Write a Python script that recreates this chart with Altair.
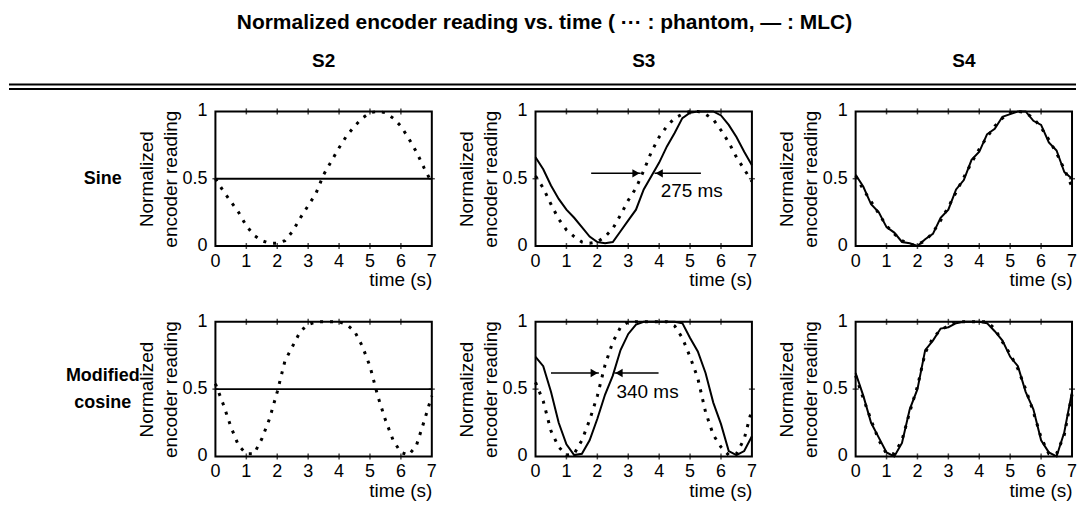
import altair as alt
import pandas as pd

# ---------------- data ----------------
TITLE = "Normalized encoder reading vs. time ( \u00b7\u00b7\u00b7 : phantom, \u2014 : MLC)"
COLS = ["S2", "S3", "S4"]
ROWS = ["Sine", "Modified\ncosine"]
X_TICKS = [0, 1, 2, 3, 4, 5, 6, 7]
X_TICK_LABELS = ["0", "1", "2", "3", "4", "5", "6", "7"]
Y_TICKS = [0, 0.5, 1]
Y_TICK_LABELS = ["0", "0.5", "1"]
Y_TITLE = ["Normalized", "encoder reading"]
X_TITLE = "time (s)"

TIME = [0.0, 0.25, 0.5, 0.75, 1.0, 1.25, 1.5, 1.75, 2.0, 2.25, 2.5, 2.75, 3.0, 3.25,
        3.5, 3.75, 4.0, 4.25, 4.5, 4.75, 5.0, 5.25, 5.5, 5.75, 6.0, 6.25, 6.5, 6.75, 7.0]

SINE_S2_PHANTOM = [0.50, 0.41, 0.33, 0.25, 0.15, 0.08, 0.04, 0.02, 0.02, 0.04, 0.11, 0.21, 0.30, 0.39,
                   0.53, 0.63, 0.73, 0.82, 0.89, 0.95, 0.99, 1.00, 0.99, 0.95, 0.89, 0.80, 0.70, 0.58, 0.47]
SINE_S2_MLC_T = [0.0, 7.0]
SINE_S2_MLC = [0.5, 0.5]

SINE_S3_PHANTOM = [0.52, 0.43, 0.31, 0.20, 0.12, 0.07, 0.03, 0.02, 0.03, 0.07, 0.13, 0.23, 0.34, 0.43,
                   0.56, 0.70, 0.81, 0.89, 0.95, 0.98, 1.00, 1.00, 0.98, 0.94, 0.86, 0.77, 0.66, 0.57, 0.48]
SINE_S3_MLC = [0.66, 0.57, 0.45, 0.35, 0.27, 0.21, 0.14, 0.07, 0.03, 0.02, 0.03, 0.11, 0.19, 0.27,
               0.42, 0.52, 0.62, 0.74, 0.84, 0.95, 0.99, 1.00, 1.00, 1.00, 0.97, 0.90, 0.81, 0.70, 0.60]

SINE_S4_PHANTOM = [0.52, 0.42, 0.33, 0.24, 0.15, 0.09, 0.04, 0.01, 0.01, 0.04, 0.10, 0.19, 0.29, 0.40,
                   0.51, 0.62, 0.72, 0.81, 0.89, 0.95, 0.99, 1.00, 0.99, 0.95, 0.88, 0.79, 0.69, 0.57, 0.44]
SINE_S4_MLC = [0.53, 0.44, 0.31, 0.25, 0.14, 0.10, 0.03, 0.02, 0.00, 0.05, 0.09, 0.21, 0.27, 0.42,
               0.49, 0.64, 0.70, 0.83, 0.87, 0.96, 0.98, 1.00, 1.00, 0.93, 0.90, 0.77, 0.71, 0.55, 0.50]

MCOS_S2_PHANTOM = [0.54, 0.39, 0.22, 0.08, 0.02, 0.02, 0.13, 0.28, 0.48, 0.71, 0.82, 0.93, 0.98, 1.00,
                   1.00, 1.00, 1.00, 0.98, 0.93, 0.82, 0.67, 0.45, 0.27, 0.12, 0.03, 0.01, 0.08, 0.26, 0.45]
MCOS_S2_MLC_T = [0.0, 7.0]
MCOS_S2_MLC = [0.5, 0.5]

MCOS_S3_PHANTOM = [0.55, 0.41, 0.19, 0.07, 0.01, 0.02, 0.12, 0.27, 0.45, 0.68, 0.85, 0.96, 1.00, 1.00,
                   1.00, 1.00, 1.00, 1.00, 0.97, 0.88, 0.74, 0.58, 0.33, 0.16, 0.07, 0.01, 0.02, 0.13, 0.35]
MCOS_S3_MLC = [0.74, 0.67, 0.48, 0.25, 0.09, 0.01, 0.02, 0.12, 0.28, 0.46, 0.60, 0.79, 0.91, 0.98,
               1.00, 1.00, 1.00, 1.00, 1.00, 0.99, 0.88, 0.78, 0.62, 0.40, 0.24, 0.04, 0.01, 0.04, 0.15]

MCOS_S4_PHANTOM = [0.60, 0.43, 0.27, 0.12, 0.02, 0.02, 0.12, 0.33, 0.52, 0.77, 0.88, 0.94, 0.97, 1.00,
                   1.00, 1.00, 1.00, 1.00, 0.95, 0.85, 0.76, 0.65, 0.50, 0.33, 0.14, 0.02, 0.02, 0.16, 0.46]
MCOS_S4_MLC = [0.62, 0.45, 0.25, 0.14, 0.03, 0.00, 0.10, 0.35, 0.50, 0.79, 0.86, 0.95, 0.96, 0.99,
               1.00, 1.00, 1.00, 0.99, 0.93, 0.86, 0.74, 0.67, 0.48, 0.35, 0.12, 0.03, 0.00, 0.18, 0.48]

PANELS = {
    ("Sine", "S2"): (TIME, SINE_S2_PHANTOM, SINE_S2_MLC_T, SINE_S2_MLC),
    ("Sine", "S3"): (TIME, SINE_S3_PHANTOM, TIME, SINE_S3_MLC),
    ("Sine", "S4"): (TIME, SINE_S4_PHANTOM, TIME, SINE_S4_MLC),
    ("Modified\ncosine", "S2"): (TIME, MCOS_S2_PHANTOM, MCOS_S2_MLC_T, MCOS_S2_MLC),
    ("Modified\ncosine", "S3"): (TIME, MCOS_S3_PHANTOM, TIME, MCOS_S3_MLC),
    ("Modified\ncosine", "S4"): (TIME, MCOS_S4_PHANTOM, TIME, MCOS_S4_MLC),
}

# lag annotations: arrow shafts (start, tip), label
ANNOT = {
    ("Sine", "S3"): dict(level=0.54, left=(1.8, 3.4), right=(5.35, 3.85),
                         label="275 ms", label_t=4.05, label_v=0.41),
    ("Modified\ncosine", "S3"): dict(level=0.62, left=(0.5, 2.05), right=(3.98, 2.55),
                                     label="340 ms", label_t=2.62, label_v=0.48),
}

# ---------------- layout ----------------
FONT = "Liberation Sans, Arial, Helvetica, sans-serif"
PANEL_W, PANEL_H = 217, 135
GAP_X, GAP_Y = 104, 76
LABEL_W = 103
HEADER_H = 103
TOTAL_W = LABEL_W + 3 * (PANEL_W + GAP_X)
NO_FRAME = alt.ViewBackground(stroke=None)
FRAME = alt.ViewBackground(stroke="black", strokeWidth=2)
TICK_FONT = 18
ROW_LINE_H = 27

XS = alt.Scale(domain=[0, 7], nice=False, zero=False)
YS = alt.Scale(domain=[0, 1], nice=False, zero=False)
XAX = alt.Axis(title=X_TITLE, labels=False, ticks=False, domain=False, grid=False,
               titleAnchor="end", titlePadding=25)
YAX = alt.Axis(title=Y_TITLE, labels=False, ticks=False, domain=False, grid=False,
               titlePadding=35, titleLineHeight=24)
X_ENC = alt.X("t:Q", scale=XS, axis=XAX)
Y_ENC = alt.Y("v:Q", scale=YS, axis=YAX)


def panel(row, col):
    t_ph, v_ph, t_ml, v_ml = PANELS[(row, col)]
    ph = pd.DataFrame({"t": t_ph, "v": v_ph})
    ml = pd.DataFrame({"t": t_ml, "v": v_ml})
    layers = [
        alt.Chart(ph).mark_line(color="black", strokeWidth=3, strokeDash=[3, 7], strokeCap="butt").encode(
            x=X_ENC, y=Y_ENC),
        alt.Chart(ml).mark_line(color="black", strokeWidth=2).encode(x=X_ENC, y=Y_ENC),
    ]
    # inward ticks on the frame
    xt = pd.DataFrame({"t": X_TICKS[1:-1]})
    yt = pd.DataFrame({"v": Y_TICKS[1:-1]})
    for yd in (0, 1):
        layers.append(alt.Chart(xt).mark_tick(orient="vertical", size=6, thickness=1.5, color="black").encode(
            x=X_ENC, y=alt.datum(yd)))
    for xd in (0, 7):
        layers.append(alt.Chart(yt).mark_tick(orient="horizontal", size=6, thickness=1.5, color="black").encode(
            y=Y_ENC, x=alt.datum(xd)))
    # tick labels placed through the scales
    xl = pd.DataFrame({"t": X_TICKS, "s": X_TICK_LABELS})
    yl = pd.DataFrame({"v": Y_TICKS, "s": Y_TICK_LABELS})
    layers.append(alt.Chart(xl).mark_text(baseline="top", align="center", fontSize=TICK_FONT, color="black").encode(
        x=X_ENC, y=alt.value(PANEL_H + 7), text="s:N"))
    layers.append(alt.Chart(yl).mark_text(baseline="middle", align="right", fontSize=TICK_FONT, color="black").encode(
        y=Y_ENC, x=alt.value(-8), text="s:N"))
    a = ANNOT.get((row, col))
    if a:
        lv = a["level"]
        shafts = pd.DataFrame({"t": [a["left"][0], a["left"][1], a["right"][0], a["right"][1]],
                               "v": [lv] * 4, "id": [0, 0, 1, 1]})
        heads = pd.DataFrame({"t": [a["left"][1] - 0.15, a["right"][1] + 0.15], "v": [lv, lv],
                              "dir": ["r", "l"]})
        lab = pd.DataFrame({"t": [a["label_t"]], "v": [a["label_v"]], "s": [a["label"]]})
        layers += [
            alt.Chart(shafts).mark_line(color="black", strokeWidth=1.5).encode(
                x=X_ENC, y=Y_ENC, detail="id:N"),
            alt.Chart(heads).mark_point(filled=True, color="black", size=70, opacity=1).encode(
                x=X_ENC, y=Y_ENC,
                shape=alt.Shape("dir:N", scale=alt.Scale(domain=["r", "l"],
                                                         range=["triangle-right", "triangle-left"]),
                                legend=None)),
            alt.Chart(lab).mark_text(align="left", baseline="middle", fontSize=19, color="black").encode(
                x=X_ENC, y=Y_ENC, text="s:N"),
        ]
    return alt.layer(*layers).properties(width=PANEL_W, height=PANEL_H, view=FRAME)


def row_label(text):
    n_lines = text.count("\n") + 1
    y_first = PANEL_H / 2 - (n_lines - 1) * ROW_LINE_H / 2
    return alt.Chart(pd.DataFrame({"s": [text]})).mark_text(
        fontSize=18, fontWeight="bold", lineBreak="\n", lineHeight=ROW_LINE_H, align="center",
        baseline="middle", color="black").encode(
        text="s:N", x=alt.value(94), y=alt.value(y_first)).properties(
        width=LABEL_W, height=PANEL_H, view=NO_FRAME)


def header():
    layers = [
        alt.Chart(pd.DataFrame({"s": [TITLE]})).mark_text(fontSize=21, fontWeight="bold", color="black").encode(
            text="s:N", x=alt.value(TOTAL_W / 2 + 4), y=alt.value(14)),
    ]
    for i, c in enumerate(COLS):
        cx = LABEL_W + GAP_X + PANEL_W / 2 + i * (PANEL_W + GAP_X)
        layers.append(alt.Chart(pd.DataFrame({"s": [c]})).mark_text(
            fontSize=19, fontWeight="bold", color="black").encode(
            text="s:N", x=alt.value(cx), y=alt.value(52)))
    for yy in (76, 80.5):
        layers.append(alt.Chart(pd.DataFrame({"s": [0]})).mark_rule(color="black", strokeWidth=2).encode(
            x=alt.value(0), x2=alt.value(TOTAL_W + 4), y=alt.value(yy)))
    return alt.layer(*layers).properties(width=TOTAL_W, height=HEADER_H, view=NO_FRAME)


cells = []
for r in ROWS:
    cells.append(row_label(r))
    cells += [panel(r, c) for c in COLS]

grid = alt.concat(*cells, columns=4, spacing={"row": GAP_Y, "column": GAP_X}, bounds="flush")

chart = alt.vconcat(header(), grid, spacing=0, bounds="flush").properties(
    padding=0, background="white").configure(font=FONT).configure_axis(
    labelFont=FONT, titleFont=FONT, titleFontSize=19, titleColor="black", titleFontWeight="normal",
).configure_text(font=FONT)

chart.save("out.html", embed_options={"renderer": "svg", "actions": False})
